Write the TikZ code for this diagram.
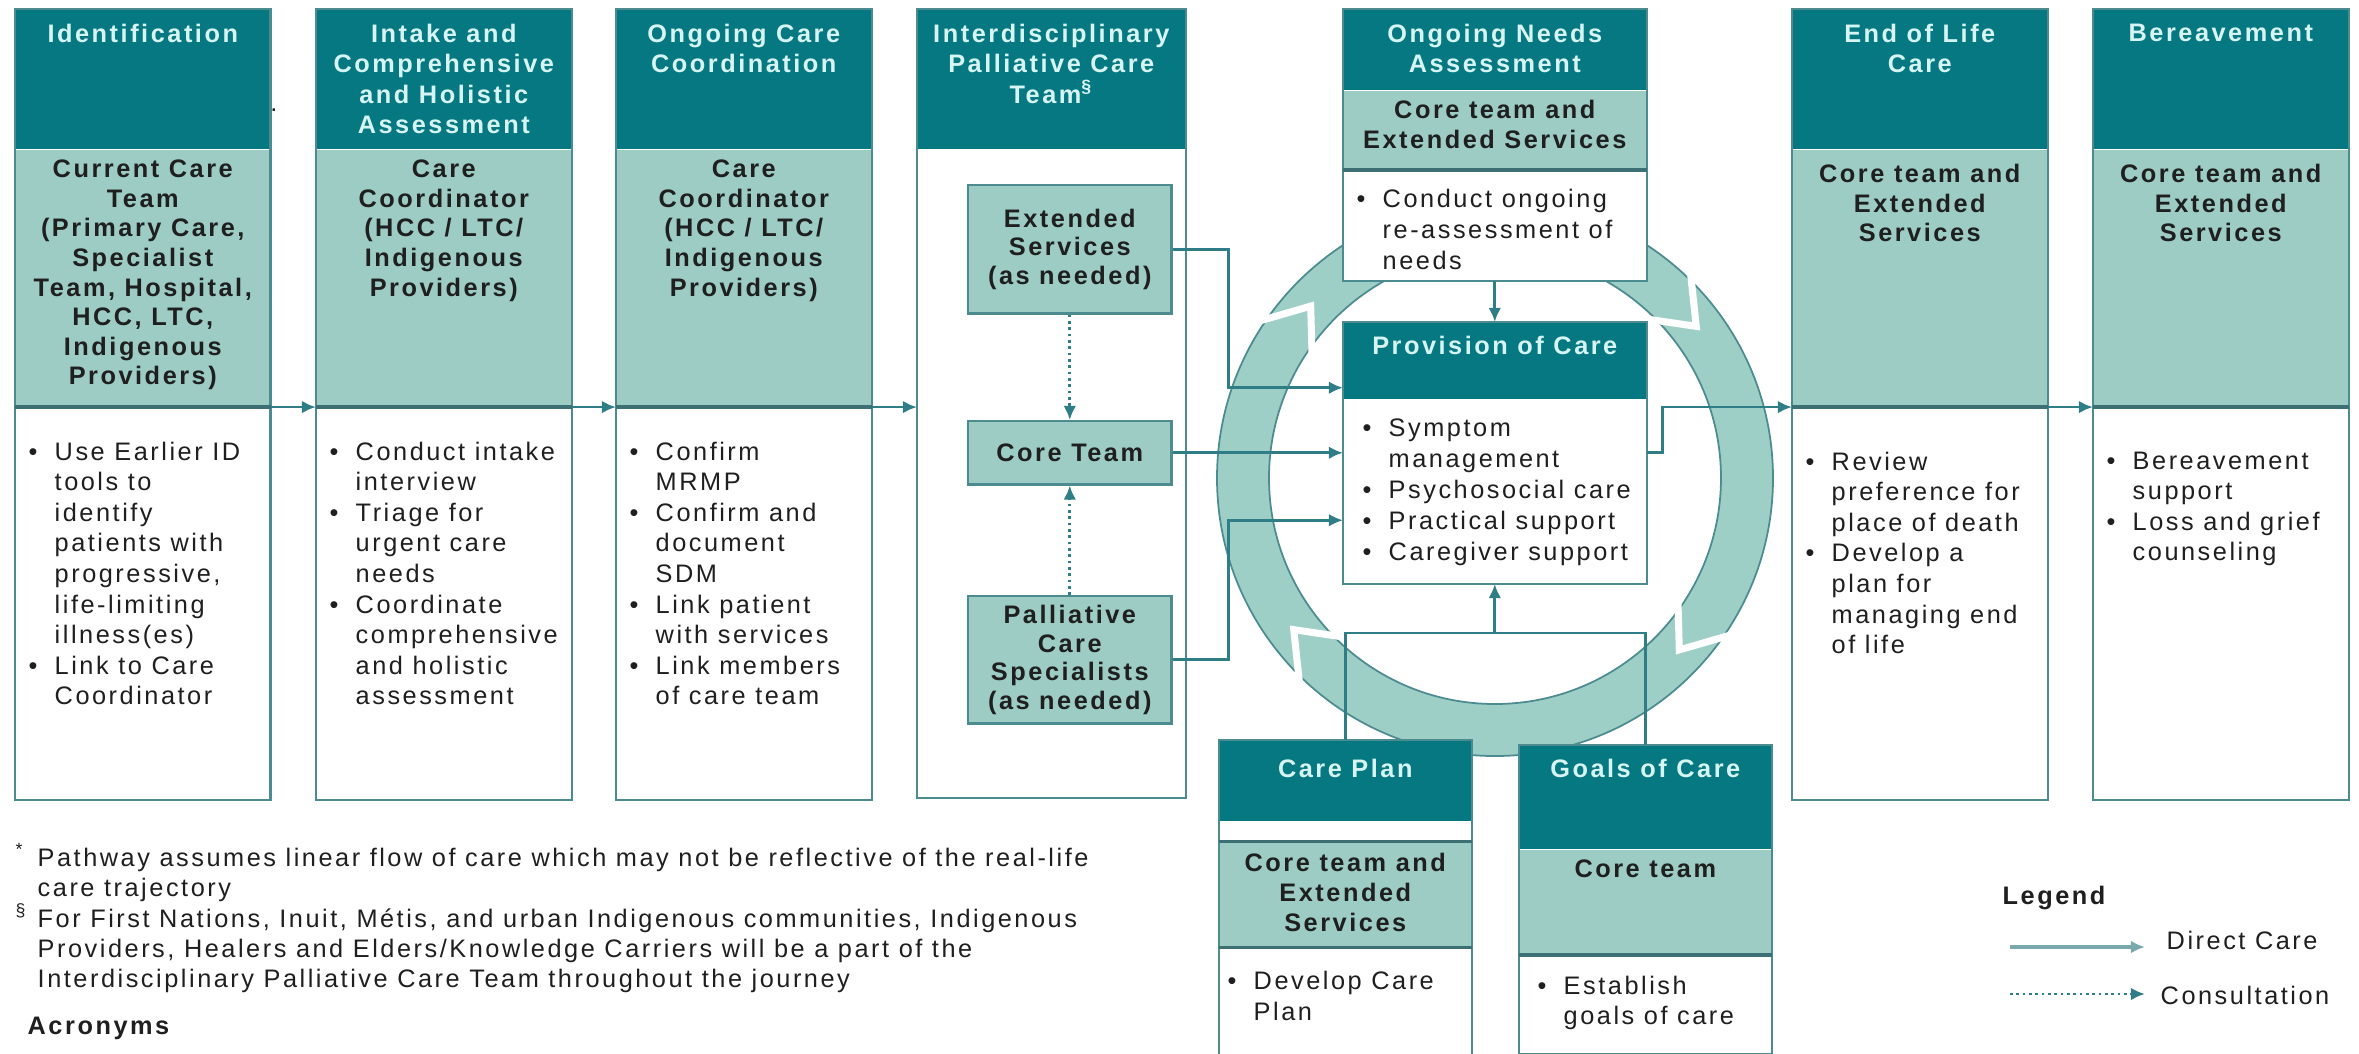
\documentclass[tikz,border=0pt]{standalone}
\usepackage{fontspec}
\setmainfont{Liberation Sans}[LetterSpace=10]
\usetikzlibrary{arrows.meta,positioning,calc}
\definecolor{HeadClr}{rgb}{0.02,0.47,0.51}
\definecolor{BandClr}{rgb}{0.61,0.80,0.77}
\definecolor{RingClr}{rgb}{0.62,0.81,0.78}
\definecolor{LineClr}{rgb}{0.18,0.49,0.53}
\definecolor{EdgeClr}{rgb}{0.30,0.55,0.57}
\definecolor{HeadTxt}{rgb}{0.84,0.96,0.95}
\definecolor{InkClr}{rgb}{0.12,0.12,0.12}

\newcommand{\bpt}{\makebox[0.26cm][l]{\textbullet}}
\newcommand{\bsp}{\hspace*{0.26cm}}

\begin{document}
\begin{tikzpicture}[x=0.01cm,y=-0.01cm,
  hd/.style={fill=HeadClr,inner sep=0pt},
  bd/.style={fill=BandClr,inner sep=0pt},
  wt/.style={fill=white,inner sep=0pt},
  boxedge/.style={draw=EdgeClr,line width=0.6pt},
  bandline/.style={draw=EdgeClr!80!black,line width=0.9pt},
  htx/.style={inner sep=0pt,align=center,text=HeadTxt,font=\fontsize{7.2}{8.7}\selectfont\bfseries},
  btx/.style={inner sep=0pt,align=center,text=InkClr,font=\fontsize{7.2}{8.4}\selectfont\bfseries},
  ltx/.style={inner sep=0pt,align=left,text=InkClr,font=\fontsize{7.2}{8.7}\selectfont},
  member/.style={fill=BandClr,draw=EdgeClr,line width=0.7pt,inner sep=0pt,minimum width=2.03cm,
    align=center,text=InkClr,font=\fontsize{7.2}{8.1}\selectfont\bfseries},
  direct/.style={draw=LineClr,line width=0.8pt,-{Latex[length=4pt,width=3.6pt]}},
  consult/.style={direct,densely dotted},
  link/.style={draw=LineClr,line width=0.8pt}
]
\useasboundingbox (0,0) rectangle (2359,1053);

% cycle ring
\begin{scope}[shift={(1495,478)}]
\fill[RingClr,even odd rule] (0,0) circle[radius=278] (0,0) circle[radius=226];
\draw[EdgeClr,line width=0.5pt] (0,0) circle[radius=278] (0,0) circle[radius=226];
\foreach \a in {40,140,220,320}
  \draw[white,line width=2pt] ({\a-7}:218) -- ({\a+3}:252) -- ({\a-7}:286);
\end{scope}

% Identification
\node[hd,anchor=north west,minimum width=2.54cm,minimum height=1.39cm] (idH) at (15,9) {};
\node[bd,minimum width=2.54cm,minimum height=2.56cm,below=0pt of idH] (idB) {};
\node[wt,minimum width=2.54cm,minimum height=3.91cm,below=0pt of idB] (idW) {};
\draw[boxedge] (idH.north west) rectangle (idW.south east);
\draw[bandline] (idB.south west) -- (idB.south east);
\node[htx,below=0.14cm of idH.north] (idHt) {Identification};
\node[btx,below=0.10cm of idB.north] (idBt) {Current Care\\Team\\(Primary Care,\\Specialist\\Team, Hospital,\\HCC, LTC,\\Indigenous\\Providers)};
\node[ltx,below right=0.34cm and 0.13cm of idB.south west] (idWt) {\bpt Use Earlier ID\\ \bsp tools to\\ \bsp identify\\ \bsp patients with\\ \bsp progressive,\\ \bsp life-limiting\\ \bsp illness(es)\\ \bpt Link to Care\\ \bsp Coordinator};
\node[inner sep=0pt,font=\fontsize{7.2}{8}\selectfont,text=InkClr] (dot) at (274,110) {.};

% Intake
\node[hd,anchor=north west,minimum width=2.54cm,minimum height=1.39cm] (inH) at (316,9) {};
\node[bd,minimum width=2.54cm,minimum height=2.56cm,below=0pt of inH] (inB) {};
\node[wt,minimum width=2.54cm,minimum height=3.91cm,below=0pt of inB] (inW) {};
\draw[boxedge] (inH.north west) rectangle (inW.south east);
\draw[bandline] (inB.south west) -- (inB.south east);
\node[htx,below=0.14cm of inH.north] (inHt) {Intake and\\Comprehensive\\and Holistic\\Assessment};
\node[btx,below=0.10cm of inB.north] (inBt) {Care\\Coordinator\\(HCC / LTC/\\Indigenous\\Providers)};
\node[ltx,below right=0.34cm and 0.13cm of inB.south west] (inWt) {\bpt Conduct intake\\ \bsp interview\\ \bpt Triage for\\ \bsp urgent care\\ \bsp needs\\ \bpt Coordinate\\ \bsp comprehensive\\ \bsp and holistic\\ \bsp assessment};

% Ongoing care coordination
\node[hd,anchor=north west,minimum width=2.54cm,minimum height=1.39cm] (ocH) at (616,9) {};
\node[bd,minimum width=2.54cm,minimum height=2.56cm,below=0pt of ocH] (ocB) {};
\node[wt,minimum width=2.54cm,minimum height=3.91cm,below=0pt of ocB] (ocW) {};
\draw[boxedge] (ocH.north west) rectangle (ocW.south east);
\draw[bandline] (ocB.south west) -- (ocB.south east);
\node[htx,below=0.14cm of ocH.north] (ocHt) {Ongoing Care\\Coordination};
\node[btx,below=0.10cm of ocB.north] (ocBt) {Care\\Coordinator\\(HCC / LTC/\\Indigenous\\Providers)};
\node[ltx,below right=0.34cm and 0.13cm of ocB.south west] (ocWt) {\bpt Confirm\\ \bsp MRMP\\ \bpt Confirm and\\ \bsp document\\ \bsp SDM\\ \bpt Link patient\\ \bsp with services\\ \bpt Link members\\ \bsp of care team};

% Interdisciplinary team
\node[hd,anchor=north west,minimum width=2.67cm,minimum height=1.39cm] (ipH) at (917,9) {};
\node[wt,minimum width=2.67cm,minimum height=6.47cm,below=0pt of ipH] (ipW) {};
\draw[boxedge] (ipH.north west) rectangle (ipW.south east);
\node[htx,below=0.14cm of ipH.north] (ipHt) {Interdisciplinary\\Palliative Care\\Team\textsuperscript{§}};
\node[member,minimum height=1.28cm,anchor=north west] (ext) at (967,184) {Extended\\Services\\(as needed)};
\node[member,minimum height=0.63cm,anchor=north west] (core) at (967,420) {Core Team};
\node[member,minimum height=1.27cm,anchor=north west] (pal) at (967,595) {Palliative\\Care\\Specialists\\(as needed)};

% Ongoing needs assessment
\node[hd,anchor=north west,minimum width=3.02cm,minimum height=0.80cm] (onH) at (1343,9) {};
\node[bd,minimum width=3.02cm,minimum height=0.78cm,below=0pt of onH] (onB) {};
\node[wt,minimum width=3.02cm,minimum height=1.10cm,below=0pt of onB] (onW) {};
\draw[boxedge] (onH.north west) rectangle (onW.south east);
\draw[bandline] (onB.south west) -- (onB.south east);
\node[htx,below=0.14cm of onH.north] (onHt) {Ongoing Needs\\Assessment};
\node[btx,below=0.09cm of onB.north] (onBt) {Core team and\\Extended Services};
\node[ltx,below right=0.19cm and 0.13cm of onB.south west] (onWt) {\bpt Conduct ongoing\\ \bsp re-assessment of\\ \bsp needs};

% Provision of care
\node[hd,anchor=north west,minimum width=3.02cm,minimum height=0.76cm] (pcH) at (1343,322) {};
\node[wt,minimum width=3.02cm,minimum height=1.83cm,below=0pt of pcH] (pcW) {};
\draw[boxedge] (pcH.north west) rectangle (pcW.south east);
\node[htx,below=0.13cm of pcH.north] (pcHt) {Provision of Care};
\node[ltx,font=\fontsize{7.2}{8.8}\selectfont,below right=0.19cm and 0.19cm of pcH.south west] (pcWt) {\bpt Symptom\\ \bsp management\\ \bpt Psychosocial care\\ \bpt Practical support\\ \bpt Caregiver support};

% Care plan
\node[hd,anchor=north west,minimum width=2.51cm,minimum height=0.80cm] (cpH) at (1219,740) {};
\node[wt,minimum width=2.51cm,minimum height=0.19cm,below=0pt of cpH] (cpS) {};
\node[bd,minimum width=2.51cm,minimum height=1.04cm,below=0pt of cpS] (cpB) {};
\node[wt,minimum width=2.51cm,minimum height=1.07cm,below=0pt of cpB] (cpW) {};
\draw[boxedge] (cpH.north west) rectangle (cpW.south east);
\draw[bandline] (cpB.north west) -- (cpB.north east) (cpB.south west) -- (cpB.south east);
\node[htx,below=0.18cm of cpH.north] (cpHt) {Care Plan};
\node[btx,below=0.11cm of cpB.north] (cpBt) {Core team and\\Extended\\Services};
\node[ltx,below right=0.23cm and 0.08cm of cpB.south west] (cpWt) {\bpt Develop Care\\ \bsp Plan};

% Goals of care
\node[hd,anchor=north west,minimum width=2.51cm,minimum height=1.03cm] (goH) at (1519,745) {};
\node[bd,minimum width=2.51cm,minimum height=1.04cm,below=0pt of goH] (goB) {};
\node[wt,minimum width=2.51cm,minimum height=0.98cm,below=0pt of goB] (goW) {};
\draw[boxedge] (goH.north west) rectangle (goW.south east);
\draw[bandline] (goB.south west) -- (goB.south east);
\node[htx,below=0.13cm of goH.north] (goHt) {Goals of Care};
\node[btx,below=0.10cm of goB.north] (goBt) {Core team};
\node[ltx,below right=0.20cm and 0.18cm of goB.south west] (goWt) {\bpt Establish\\ \bsp goals of care};

% End of life care
\node[hd,anchor=north west,minimum width=2.54cm,minimum height=1.39cm] (eolH) at (1792,9) {};
\node[bd,minimum width=2.54cm,minimum height=2.56cm,below=0pt of eolH] (eolB) {};
\node[wt,minimum width=2.54cm,minimum height=3.91cm,below=0pt of eolB] (eolW) {};
\draw[boxedge] (eolH.north west) rectangle (eolW.south east);
\draw[bandline] (eolB.south west) -- (eolB.south east);
\node[htx,below=0.14cm of eolH.north] (eolHt) {End of Life\\Care};
\node[btx,below=0.14cm of eolB.north] (eolBt) {Core team and\\Extended\\Services};
\node[ltx,below right=0.44cm and 0.13cm of eolB.south west] (eolWt) {\bpt Review\\ \bsp preference for\\ \bsp place of death\\ \bpt Develop a\\ \bsp plan for\\ \bsp managing end\\ \bsp of life};

% Bereavement
\node[hd,anchor=north west,minimum width=2.54cm,minimum height=1.39cm] (berH) at (2093,9) {};
\node[bd,minimum width=2.54cm,minimum height=2.56cm,below=0pt of berH] (berB) {};
\node[wt,minimum width=2.54cm,minimum height=3.91cm,below=0pt of berB] (berW) {};
\draw[boxedge] (berH.north west) rectangle (berW.south east);
\draw[bandline] (berB.south west) -- (berB.south east);
\node[htx,below=0.14cm of berH.north] (berHt) {Bereavement};
\node[btx,below=0.14cm of berB.north] (berBt) {Core team and\\Extended\\Services};
\node[ltx,below right=0.44cm and 0.13cm of berB.south west] (berWt) {\bpt Bereavement\\ \bsp support\\ \bpt Loss and grief\\ \bsp counseling};

% connectors
\draw[direct] (idB.south east) -- (inB.south west);
\draw[direct] (inB.south east) -- (ocB.south west);
\draw[direct] (ocB.south east) -- (ocB.south east -| ipW.west);
\draw[direct] (eolB.south east) -- (berB.south west);
\draw[consult] (ext.south) -- (core.north);
\draw[consult] (pal.north) -- (core.south);
\draw[direct] (ext.east) -- ++(56,0) |- ([yshift=-0.27cm]pcH.west);
\draw[direct] (core.east) -- (core.east -| pcW.west);
\draw[direct] (pal.east) -- ++(56,0) |- ([yshift=-0.285cm]pcW.west);
\draw[direct] (onW.south) -- (pcH.north);
\draw[direct] (pcW.east |- core.east) -- ++(16,0) |- (eolB.south west);
\coordinate (brk) at ($(pcW.south)+(0,49)$);
\draw[link] (cpH.north) |- (brk) -| (goH.north);
\draw[direct] (brk) -- (pcW.south);

% notes
\node[ltx,anchor=north west,font=\fontsize{7.2}{8.6}\selectfont] (notes) at (15,843) {\makebox[0.22cm][l]{\textsuperscript{*}}Pathway assumes linear flow of care which may not be reflective of the real-life\\ \hspace*{0.22cm}care trajectory\\ \makebox[0.22cm][l]{\textsuperscript{§}}For First Nations, Inuit, Métis, and urban Indigenous communities, Indigenous\\ \hspace*{0.22cm}Providers, Healers and Elders/Knowledge Carriers will be a part of the\\ \hspace*{0.22cm}Interdisciplinary Palliative Care Team throughout the journey};
\node[anchor=west,inner sep=0pt,text=InkClr,font=\fontsize{7.2}{8.6}\selectfont\bfseries] (acr) at (27,1028) {Acronyms};

% legend
\node[anchor=west,inner sep=0pt,text=InkClr,font=\fontsize{7.2}{8.6}\selectfont\bfseries] (lgd) at (2002,898) {Legend};
\coordinate (dcA) at (2010,947);
\coordinate (dcB) at (2145,947);
\draw[direct,draw=EdgeClr!75,line width=1.4pt] (dcA) -- (dcB);
\node[anchor=west,inner sep=0pt,text=InkClr,font=\fontsize{7.2}{8.6}\selectfont] (dcT) at (2166,940) {Direct Care};
\coordinate (csA) at (2010,994);
\coordinate (csB) at (2145,994);
\draw[consult] (csA) -- (csB);
\node[anchor=west,inner sep=0pt,text=InkClr,font=\fontsize{7.2}{8.6}\selectfont] (csT) at (2160,995) {Consultation};

\end{tikzpicture}
\end{document}
